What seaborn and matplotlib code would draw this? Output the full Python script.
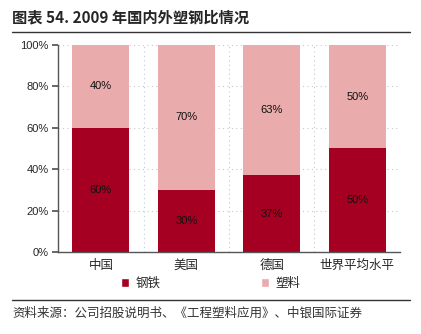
import matplotlib
matplotlib.use("Agg")
import matplotlib.pyplot as plt
import seaborn as sns
import pandas as pd
from matplotlib.lines import Line2D
from matplotlib.patches import Patch

categories = ["中国", "美国", "德国", "世界平均水平"]
steel = [60, 30, 37, 50]
plastic = [40, 70, 63, 50]
y_ticks = [0, 20, 40, 60, 80, 100]
y_tick_labels = ["0%", "20%", "40%", "60%", "80%", "100%"]

sns.set_theme(style="white")
plt.rcParams['font.family'] = ['Liberation Sans', 'Noto Sans CJK SC', 'DejaVu Sans']

steel_color = "#A50021"
plastic_color = "#E9ABAB"

df = pd.DataFrame({"cat": categories, "steel": steel, "plastic": plastic})
df["total"] = df["steel"] + df["plastic"]

fig = plt.figure(figsize=(4.21, 3.34), dpi=100)
ax = fig.add_axes([0.138, 0.2455, 0.812, 0.62])

sns.barplot(data=df, x="cat", y="total", color=plastic_color, saturation=1,
            width=0.67, ax=ax, edgecolor="none")
sns.barplot(data=df, x="cat", y="steel", color=steel_color, saturation=1,
            width=0.67, ax=ax, edgecolor="none")

for i, (s, p) in enumerate(zip(steel, plastic)):
    ax.text(i, s / 2, f"{s}%", ha="center", va="center", fontsize=8, color="#111111", zorder=10)
    ax.text(i, s + p / 2, f"{p}%", ha="center", va="center", fontsize=8, color="#111111", zorder=10)

ax.set_xlim(-0.5, 3.5)
ax.set_ylim(0, 100)
ax.set_yticks(y_ticks)
ax.set_yticklabels(y_tick_labels, fontsize=8)
ax.set_xlabel("")
ax.set_ylabel("")
ax.set_xticks(range(len(categories)))
ax.set_xticklabels(categories, fontsize=9, family=['Noto Sans CJK SC'])
ax.tick_params(axis="x", which="major", length=0, pad=5)
ax.set_xticks([0.5, 1.5, 2.5, 3.5], minor=True)
ax.tick_params(axis="x", which="minor", length=4, color="#555555", direction="out")
ax.tick_params(axis="y", length=4, color="#555555", direction="out", left=True, pad=3)

for yv in y_ticks[1:]:
    ax.axhline(yv, color="#C8C8C8", lw=0.8, ls=(0, (1, 3)), zorder=0)
for xv in [0.5, 1.5, 2.5, 3.5]:
    ax.axvline(xv, color="#C8C8C8", lw=0.8, ls=(0, (1, 3)), zorder=0)

for side in ["top", "right"]:
    ax.spines[side].set_visible(False)
for side in ["left", "bottom"]:
    ax.spines[side].set_color("#555555")
    ax.spines[side].set_linewidth(1.0)

handles = [Patch(facecolor=steel_color, label="钢铁"), Patch(facecolor=plastic_color, label="塑料")]
fig.legend(handles=handles, loc="center", bbox_to_anchor=(0.5, 1 - 283 / 334), ncol=2,
           frameon=False, handlelength=0.7, handleheight=0.7, columnspacing=8,
           handletextpad=0.5, prop={"family": "Noto Sans CJK SC", "size": 9})

fig.text(12 / 421, 1 - 17 / 334, "图表 54. 2009 年国内外塑钢比情况", fontsize=11, fontweight="bold",
         ha="left", va="center", family=['Noto Sans CJK SC'])
fig.add_artist(Line2D([12 / 421, 410 / 421], [1 - 32 / 334, 1 - 32 / 334], color="#333333", lw=1.0))
fig.add_artist(Line2D([12 / 421, 410 / 421], [1 - 300 / 334, 1 - 300 / 334], color="#333333", lw=1.0))
fig.text(12 / 421, 1 - 313 / 334, "资料来源：公司招股说明书、《工程塑料应用》、中银国际证券", fontsize=9,
         style="italic", ha="left", va="center", color="#333333", family=['Noto Sans CJK SC'])

fig.savefig("out.png", dpi=100)
